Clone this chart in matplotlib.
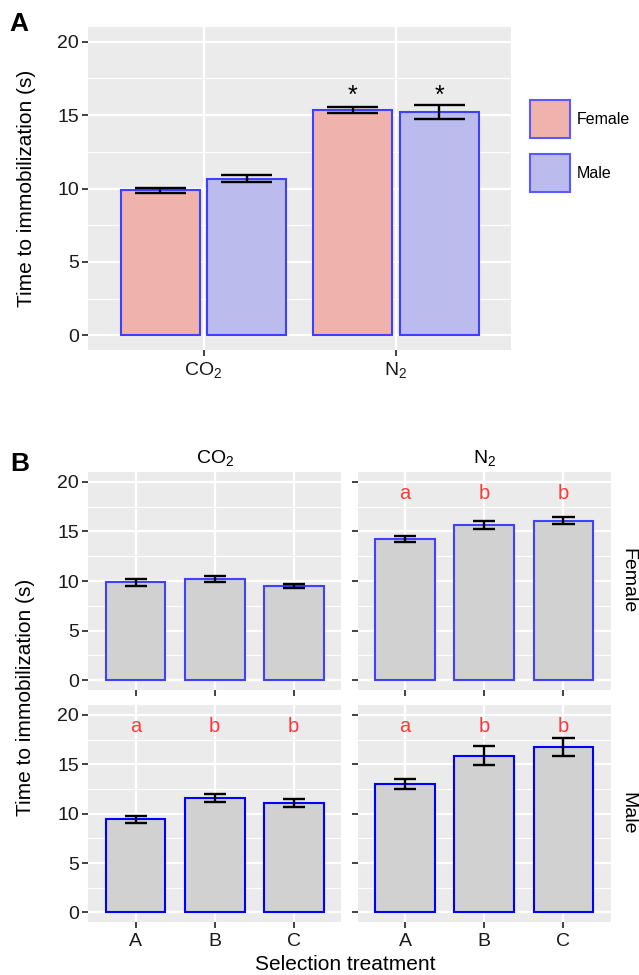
import numpy as np
import matplotlib
matplotlib.use("Agg")
import matplotlib.pyplot as plt
from matplotlib.patches import Patch
from matplotlib.ticker import MultipleLocator

plt.rcParams['font.family'] = ['Liberation Sans', 'DejaVu Sans']
plt.rcParams['mathtext.default'] = 'regular'

# ---- data: panel A (sex x gas) ----
gases = ['CO$_2$', 'N$_2$']
female_mean = [9.88, 15.33]
female_se = [0.16, 0.20]
male_mean = [10.67, 15.21]
male_se = [0.25, 0.47]
stars = ['', '*']
star_y = [15.8, 15.8]

# ---- data: panel B (selection treatment, facet sex x gas) ----
treatments = ['A', 'B', 'C']
sexes = ['Female', 'Male']
b_means = {
    ('Female', 'CO$_2$'): [9.87, 10.18, 9.52],
    ('Female', 'N$_2$'): [14.25, 15.64, 16.10],
    ('Male', 'CO$_2$'): [9.41, 11.55, 11.05],
    ('Male', 'N$_2$'): [12.99, 15.86, 16.75],
}
b_se = {
    ('Female', 'CO$_2$'): [0.37, 0.32, 0.22],
    ('Female', 'N$_2$'): [0.30, 0.42, 0.37],
    ('Male', 'CO$_2$'): [0.37, 0.42, 0.40],
    ('Male', 'N$_2$'): [0.52, 0.96, 0.88],
}
b_letters = {
    ('Female', 'CO$_2$'): ['', '', ''],
    ('Female', 'N$_2$'): ['a', 'b', 'b'],
    ('Male', 'CO$_2$'): ['a', 'b', 'b'],
    ('Male', 'N$_2$'): ['a', 'b', 'b'],
}
letter_y = 18.3

W, H = 639, 975
TICK = 14
TITLE = 15


def style(ax, ncat):
    ax.set_facecolor('#EBEBEB')
    for s in ax.spines.values():
        s.set_visible(False)
    ax.set_xlim(0.4, ncat + 0.6)
    ax.set_ylim(-1, 21)
    ax.yaxis.set_major_locator(MultipleLocator(5))
    ax.yaxis.set_minor_locator(MultipleLocator(2.5))
    ax.set_axisbelow(True)
    ax.grid(which='major', color='white', lw=1.6)
    ax.grid(which='minor', axis='y', color='white', lw=0.8)
    ax.tick_params(which='major', length=4.5, width=1.3, color='#333333',
                   labelsize=TICK, labelcolor='#1a1a1a', pad=2)
    ax.tick_params(which='minor', length=0)


def errbar(ax, x, m, se, half):
    m = np.array(m)
    se = np.array(se)
    ax.vlines(x, m - se, m + se, color='black', lw=1.7, zorder=4)
    ax.hlines(m - se, x - half, x + half, color='black', lw=1.7, zorder=4)
    ax.hlines(m + se, x - half, x + half, color='black', lw=1.7, zorder=4)


fig = plt.figure(figsize=(W / 100, H / 100), dpi=100)

# ---------- Panel A ----------
axA = fig.add_axes([88.2 / W, 1 - 350 / H, (511.4 - 88.2) / W, (350 - 27) / H])
style(axA, 2)
x = np.arange(1, 3)
axA.bar(x - 0.225, female_mean, 0.41, color='#F0B2AD', edgecolor='#3F3FFF', lw=1.5, zorder=3)
axA.bar(x + 0.225, male_mean, 0.41, color='#BBBBEE', edgecolor='#3F3FFF', lw=1.5, zorder=3)
errbar(axA, x - 0.225, female_mean, female_se, 0.133)
errbar(axA, x + 0.225, male_mean, male_se, 0.133)
for i in range(2):
    for dx in (-0.225, 0.225):
        axA.text(x[i] + dx, star_y[i], stars[i], ha='center', va='baseline', fontsize=18)
axA.set_xticks(x)
axA.set_xticklabels(gases)
axA.tick_params(axis='x', pad=3)

fig.legend(handles=[Patch(facecolor='#F0B2AD', edgecolor='#5A5AFF', lw=1.5, label='Female'),
                    Patch(facecolor='#BBBBEE', edgecolor='#5A5AFF', lw=1.5, label='Male')],
           loc='upper left', bbox_to_anchor=(530 / W, 1 - 100 / H), frameon=False,
           fontsize=11.5, handlelength=2.5, handleheight=3.3, labelspacing=1.0,
           handletextpad=0.45, borderpad=0, borderaxespad=0)

fig.text(26.5 / W, 1 - 188 / H, 'Time to immobilization (s)', rotation=90,
         ha='center', va='center', fontsize=TITLE)
fig.text(9 / W, 1 - 24 / H, 'A', fontsize=19, fontweight='bold', ha='left', va='center')

# ---------- Panel B ----------
lefts = [88.2, 357.6]
rights = [341.2, 611.0]
tops = [472, 705]
bottoms = [690, 922.3]
xb = np.arange(1, 4)
for r, sex in enumerate(sexes):
    for c, gas in enumerate(gases):
        ax = fig.add_axes([lefts[c] / W, 1 - bottoms[r] / H,
                           (rights[c] - lefts[c]) / W, (bottoms[r] - tops[r]) / H])
        style(ax, 3)
        edge = '#4040FF' if sex == 'Female' else '#0000FF'
        ax.bar(xb, b_means[(sex, gas)], 0.755, color='#D1D1D1', edgecolor=edge, lw=1.5, zorder=3)
        errbar(ax, xb, b_means[(sex, gas)], b_se[(sex, gas)], 0.14)
        for i, lab in enumerate(b_letters[(sex, gas)]):
            ax.text(xb[i], letter_y, lab, ha='center', va='baseline', fontsize=14.5, color='#FF3A3A')
        ax.set_xticks(xb)
        ax.set_xticklabels(treatments)
        ax.tick_params(axis='x', pad=3)
        if r == 0:
            ax.tick_params(labelbottom=False)
            ax.text(0.5, 1.064, gas, transform=ax.transAxes, ha='center', va='center', fontsize=TICK)
        if c == 1:
            ax.tick_params(labelleft=False)
            ax.text(1.066, 0.5, sex, transform=ax.transAxes, ha='center', va='center',
                    rotation=-90, fontsize=TICK)

fig.text(26 / W, 1 - 697 / H, 'Time to immobilization (s)', rotation=90,
         ha='center', va='center', fontsize=TITLE)
fig.text(0.54, 1 - 965 / H, 'Selection treatment', ha='center', va='center', fontsize=TITLE)
fig.text(10 / W, 1 - 464 / H, 'B', fontsize=19, fontweight='bold', ha='left', va='center')

fig.savefig('out.png', dpi=100)
